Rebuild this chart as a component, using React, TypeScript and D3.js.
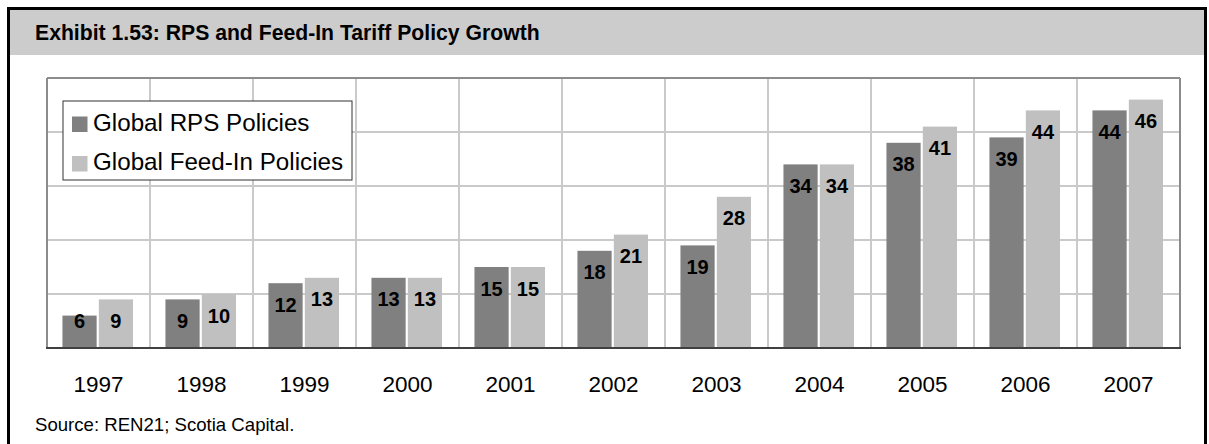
import React from "react";
import * as d3 from "d3";

const years = ["1997", "1998", "1999", "2000", "2001", "2002", "2003", "2004", "2005", "2006", "2007"];
const rpsPolicies = [6, 9, 12, 13, 15, 18, 19, 34, 38, 39, 44];
const feedInPolicies = [9, 10, 13, 13, 15, 21, 28, 34, 41, 44, 46];
const seriesNames = ["Global RPS Policies", "Global Feed-In Policies"];
const seriesColors = ["#808080", "#c0c0c0"];
const yTicks = [0, 10, 20, 30, 40, 50];
const title = "Exhibit 1.53: RPS and Feed-In Tariff Policy Growth";
const source = "Source: REN21; Scotia Capital.";

const W = 1209;
const H = 444;
const FONT = "'Liberation Sans', Arial, Helvetica, sans-serif";

export default function App() {
  const plot = { left: 47, right: 1180, top: 78, bottom: 348 };
  const x = d3.scaleBand<string>().domain(years).range([plot.left, plot.right]).padding(0);
  const bw = x.bandwidth();
  const inner = d3
    .scaleBand<string>()
    .domain(["rps", "fit"])
    .range([0.15 * bw, 0.835 * bw])
    .paddingInner(0.06);
  const y = d3.scaleLinear().domain([0, 50]).range([plot.bottom, plot.top]);

  const series = [
    { key: "rps", values: rpsPolicies, color: seriesColors[0] },
    { key: "fit", values: feedInPolicies, color: seriesColors[1] },
  ];

  const labelY = (v: number) => Math.min(y(v) + 28.5, plot.bottom - 20);

  return (
    <svg
      width={W}
      height={H}
      viewBox={`0 0 ${W} ${H}`}
      style={{ position: "absolute", left: 0, top: 0, display: "block", background: "#fff" }}
    >
      {/* header */}
      <rect x={9} y={9} width={1196} height={46} fill="#cccccc" />
      <text x={35} y={40} fontFamily={FONT} fontWeight="bold" fontSize={21.2} fill="#000">
        {title}
      </text>
      {/* outer frame (bottom cut off) */}
      <path d={`M8.5,${H + 2} V8.5 H1205.5 V${H + 2}`} fill="none" stroke="#000" strokeWidth={3} />

      {/* gridlines horizontal */}
      {yTicks
        .filter((t) => t > 0 && t < 50)
        .map((t) => (
          <line key={"h" + t} x1={plot.left} x2={plot.right} y1={y(t)} y2={y(t)} stroke="#cacaca" strokeWidth={2} />
        ))}
      {/* gridlines vertical */}
      {years.slice(1).map((yr) => (
        <line key={"v" + yr} x1={x(yr)!} x2={x(yr)!} y1={plot.top} y2={plot.bottom} stroke="#cacaca" strokeWidth={2} />
      ))}
      {/* plot border */}
      <line x1={plot.left} x2={plot.right} y1={plot.top} y2={plot.top} stroke="#8c8c8c" strokeWidth={2} />
      <line x1={plot.left} x2={plot.left} y1={plot.top} y2={plot.bottom} stroke="#8c8c8c" strokeWidth={2} />
      <line x1={plot.right} x2={plot.right} y1={plot.top} y2={plot.bottom} stroke="#8c8c8c" strokeWidth={2} />

      {/* bars */}
      {series.map((s) =>
        years.map((yr, i) => (
          <rect
            key={s.key + yr}
            x={x(yr)! + inner(s.key)!}
            y={y(s.values[i])}
            width={inner.bandwidth()}
            height={plot.bottom - y(s.values[i])}
            fill={s.color}
          />
        ))
      )}
      {/* value labels */}
      {series.map((s) =>
        years.map((yr, i) => (
          <text
            key={"l" + s.key + yr}
            x={x(yr)! + inner(s.key)! + inner.bandwidth() / 2}
            y={labelY(s.values[i])}
            textAnchor="middle"
            fontFamily={FONT}
            fontWeight="bold"
            fontSize={20}
            fill="#000"
          >
            {s.values[i]}
          </text>
        ))
      )}

      {/* x axis line */}
      <line x1={plot.left - 1} x2={plot.right + 1} y1={plot.bottom} y2={plot.bottom} stroke="#404040" strokeWidth={2} />

      {/* year labels */}
      {years.map((yr) => (
        <text
          key={"x" + yr}
          x={x(yr)! + bw / 2}
          y={392}
          textAnchor="middle"
          fontFamily={FONT}
          fontSize={22.5}
          fill="#000"
        >
          {yr}
        </text>
      ))}

      {/* legend */}
      <rect x={63} y={101} width={289} height={79} fill="#fff" stroke="#333" strokeWidth={1} />
      {seriesNames.map((name, i) => (
        <g key={name}>
          <rect x={72} y={116.5 + i * 39.5} width={15.5} height={15.5} fill={seriesColors[i]} />
          <text x={93} y={131 + i * 39} fontFamily={FONT} fontSize={24.2} fill="#000">
            {name}
          </text>
        </g>
      ))}

      {/* source */}
      <text x={35} y={431} fontFamily={FONT} fontSize={18.6} fill="#000">
        {source}
      </text>
    </svg>
  );
}
